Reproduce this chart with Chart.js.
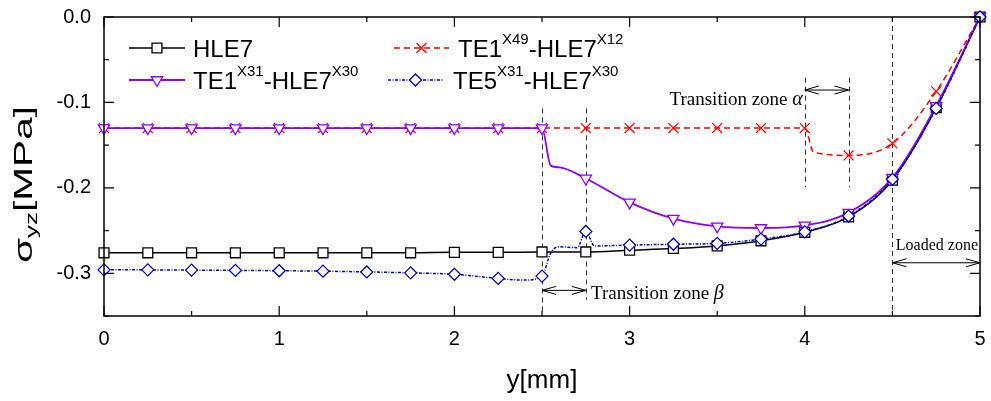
<!DOCTYPE html>
<html><head><meta charset="utf-8">
<script src="https://cdn.jsdelivr.net/npm/chart.js@4/dist/chart.umd.min.js"></script>
<style>html,body{margin:0;padding:0;background:#fff}#wrap{position:relative;width:991px;height:401px}</style>
</head><body><div id="wrap"><canvas id="c" width="991" height="401"></canvas></div>
<script>
// ---- data ----
const hle7X = [0,0.25,0.5,0.75,1,1.25,1.5,1.75,2,2.25,2.5,2.75,3,3.25,3.5,3.75,4,4.25,4.5,4.75,5];
const hle7Y = [-0.276,-0.276,-0.276,-0.276,-0.276,-0.276,-0.276,-0.276,-0.2755,-0.2755,-0.275,-0.275,-0.273,-0.271,-0.268,-0.262,-0.252,-0.234,-0.191,-0.106,0];

const te1aX = [0,0.25,0.5,0.75,1,1.25,1.5,1.75,2,2.25,2.5,2.75,3,3.25,3.5,3.75,4,4.05,4.25,4.5,4.75,5];
const te1aY = [-0.13,-0.13,-0.13,-0.13,-0.13,-0.13,-0.13,-0.13,-0.13,-0.13,-0.13,-0.13,-0.13,-0.13,-0.13,-0.13,-0.13,-0.158,-0.162,-0.148,-0.087,0];

const te1bX = [0,0.25,0.5,0.75,1,1.25,1.5,1.75,2,2.25,2.5,2.55,2.6,2.75,3,3.25,3.5,3.75,4,4.25,4.5,4.75,5];
const te1bY = [-0.13,-0.13,-0.13,-0.13,-0.13,-0.13,-0.13,-0.13,-0.13,-0.13,-0.13,-0.174,-0.176,-0.189,-0.217,-0.236,-0.245,-0.247,-0.244,-0.229,-0.188,-0.104,0];

const te5X = [0,0.25,0.5,0.75,1,1.25,1.5,1.75,2,2.25,2.4,2.5,2.55,2.6,2.7,2.75,2.8,3,3.25,3.5,3.75,4,4.25,4.5,4.75,5];
const te5Y = [-0.296,-0.296,-0.2963,-0.2966,-0.297,-0.2975,-0.2984,-0.2995,-0.3012,-0.306,-0.308,-0.3033,-0.276,-0.269,-0.270,-0.251,-0.268,-0.267,-0.266,-0.265,-0.260,-0.2515,-0.233,-0.190,-0.107,0];

const xTicks = [0,1,2,3,4,5];
const yTicks = [-0.3,-0.2,-0.1,0.0];
const zoneLines = [ // x value, y from, y to
  [2.5,-0.107,-0.35],[2.75,-0.107,-0.331],[4.0,-0.071,-0.199],[4.25,-0.071,-0.199],[4.5,0,-0.35]
];

const pts = (xs, ys) => xs.map((x,i)=>({x:x, y:ys[i]}));
const onGrid = v => Math.abs(v*4 - Math.round(v*4)) < 1e-6;

const series = [
  {label:'HLE7', parts:[['HLE7',0]], data:pts(hle7X,hle7Y), color:'#000000', dash:[], width:1.5, style:'rect', radius:7, rot:0, order:2, fill:'#ffffff'},
  {label:'TE1X49-HLE7X12', parts:[['TE1',0],['X49',1],['-HLE7',0],['X12',1]], data:pts(te1aX,te1aY), color:'#ff0000', dash:[6,4], width:1.5, style:'crossRot', radius:7, rot:0, order:3, fill:'#ffffff'},
  {label:'TE1X31-HLE7X30', parts:[['TE1',0],['X31',1],['-HLE7',0],['X30',1]], data:pts(te1bX,te1bY), color:'#8a00ff', dash:[], width:1.8, style:'triangle', radius:6.5, rot:180, order:1, fill:'#ffffff'},
  {label:'TE5X31-HLE7X30', parts:[['TE5',0],['X31',1],['-HLE7',0],['X30',1]], data:pts(te5X,te5Y), color:'#0000b4', dash:[3,1.5,1,1.5], width:1.5, style:'rectRot', radius:6, rot:0, order:0, fill:'#ffffff'}
];

const legendPos = [ // [lineX1, lineX2, textX, centerY]
  [129,185,193,48],[394,449,458,48],[129,185,193,80],[388,443,453,80]
];

function drawParts(ctx, parts, x, baseY, size) {
  let cx = x;
  parts.forEach(([t,sup])=>{
    if (sup) { ctx.font = Math.round(size*0.62)+'px "Liberation Sans", Arial, sans-serif'; ctx.fillText(t, cx, baseY - size*0.54); }
    else { ctx.font = size+'px "Liberation Sans", Arial, sans-serif'; ctx.fillText(t, cx, baseY); }
    cx += ctx.measureText(t).width;
  });
}

function arrow(ctx, x1, x2, y) {
  const L = 14, H = 4;
  ctx.beginPath();
  ctx.moveTo(x1, y); ctx.lineTo(x2, y);
  ctx.moveTo(x1+L, y-H); ctx.lineTo(x1, y); ctx.lineTo(x1+L, y+H);
  ctx.moveTo(x2-L, y-H); ctx.lineTo(x2, y); ctx.lineTo(x2-L, y+H);
  ctx.stroke();
}

const deco = {
  id:'deco',
  beforeDatasetsDraw(chart) {
    const {ctx, scales:{x, y}} = chart;
    ctx.save();
    ctx.strokeStyle = '#333'; ctx.lineWidth = 1; ctx.setLineDash([5,4]);
    zoneLines.forEach(([xv,y1,y2])=>{
      const px = Math.round(x.getPixelForValue(xv))+0.5;
      ctx.beginPath(); ctx.moveTo(px, y.getPixelForValue(y1)); ctx.lineTo(px, y.getPixelForValue(y2)); ctx.stroke();
    });
    ctx.restore();
  },
  afterDraw(chart) {
    const {ctx, chartArea:a, scales:{x, y}} = chart;
    ctx.save();
    // frame
    ctx.strokeStyle = '#000'; ctx.lineWidth = 1.5; ctx.setLineDash([]);
    ctx.strokeRect(a.left, a.top, a.right-a.left, a.bottom-a.top);
    // inward ticks
    ctx.lineWidth = 1.2;
    ctx.beginPath();
    for (let k=0; k<=10; k++) {
      const v = 0.5*k; const px = x.getPixelForValue(v);
      const len = k%2===0 ? 10 : 5;
      ctx.moveTo(px, a.bottom); ctx.lineTo(px, a.bottom-len);
      ctx.moveTo(px, a.top); ctx.lineTo(px, a.top+len);
    }
    for (let k=0; k<=7; k++) {
      const v = -0.05*k; const py = y.getPixelForValue(v);
      const len = k%2===0 ? 10 : 5;
      ctx.moveTo(a.left, py); ctx.lineTo(a.left+len, py);
      ctx.moveTo(a.right, py); ctx.lineTo(a.right-len, py);
    }
    ctx.stroke();

    // annotations
    ctx.strokeStyle = '#000'; ctx.lineWidth = 1;
    arrow(ctx, x.getPixelForValue(4.0), x.getPixelForValue(4.25), y.getPixelForValue(-0.0855));
    arrow(ctx, x.getPixelForValue(2.5), x.getPixelForValue(2.75), y.getPixelForValue(-0.320));
    arrow(ctx, x.getPixelForValue(4.5), x.getPixelForValue(5.0), y.getPixelForValue(-0.2877));
    ctx.fillStyle = '#000'; ctx.textBaseline = 'alphabetic';
    const fR = '19px "Liberation Serif", "Times New Roman", serif';
    const fI = 'italic 20px "Liberation Serif", "Times New Roman", serif';
    const tA = 'Transition zone ';
    ctx.font = fI; const wAlpha = ctx.measureText('α').width;
    ctx.font = fR; const wA = ctx.measureText(tA).width;
    // Transition zone alpha (right-aligned before x=4.0)
    const endA = x.getPixelForValue(4.0) - 2;
    const by1 = y.getPixelForValue(-0.0955) + 6;
    ctx.fillText(tA, endA - wAlpha - wA, by1);
    ctx.font = fI; ctx.fillText('α', endA - wAlpha, by1);
    // Transition zone beta
    const sB = x.getPixelForValue(2.78);
    const by2 = y.getPixelForValue(-0.322) + 7;
    ctx.font = fR; ctx.fillText(tA, sB, by2);
    ctx.font = fI; ctx.fillText('β', sB + wA, by2);
    // Loaded zone
    ctx.font = '16px "Liberation Serif", "Times New Roman", serif';
    ctx.textAlign = 'right';
    ctx.fillText('Loaded zone', a.right - 2, y.getPixelForValue(-0.267) + 5);
    ctx.textAlign = 'left';

    // legend
    series.forEach((s,i)=>{
      const [x1,x2,tx,cy] = legendPos[i];
      ctx.save();
      ctx.strokeStyle = s.color; ctx.lineWidth = s.width; ctx.setLineDash(s.dash);
      ctx.beginPath(); ctx.moveTo(x1, cy); ctx.lineTo(x2, cy); ctx.stroke();
      ctx.setLineDash([]);
      ctx.fillStyle = s.fill; ctx.strokeStyle = s.color; ctx.lineWidth = 1.3;
      Chart.helpers.drawPoint(ctx, {pointStyle:s.style, radius:s.radius, rotation:s.rot, borderWidth:1.3}, (x1+x2)/2, cy);
      ctx.restore();
      ctx.fillStyle = '#000';
      drawParts(ctx, s.parts, tx, cy + 8.6, 24);
    });

    // y title: σ_yz[MPa]
    ctx.save();
    ctx.translate(25, 184.5);
    ctx.rotate(-Math.PI/2);
    ctx.fillStyle = '#000';
    ctx.textBaseline = 'middle';
    const f1 = '25px "Liberation Sans", Arial, sans-serif', f2 = '16px "Liberation Sans", Arial, sans-serif';
    ctx.font = f1; const wS = ctx.measureText('σ').width; const wM = ctx.measureText('[MPa]').width;
    ctx.font = f2; const wY = ctx.measureText('yz').width;
    const total = wS + wY + wM; const target = 157; const sc = target/total;
    ctx.scale(sc, 1);
    let cx = -total/2;
    ctx.font = f1; ctx.fillText('σ', cx, 0); cx += wS;
    ctx.font = f2; ctx.fillText('yz', cx, 8); cx += wY;
    ctx.font = f1; ctx.fillText('[MPa]', cx, 0);
    ctx.restore();

    // x title
    ctx.font = '26px "Liberation Sans", Arial, sans-serif';
    ctx.textAlign = 'center'; ctx.textBaseline = 'middle';
    ctx.fillText('y[mm]', (a.left+a.right)/2, 381);
    ctx.restore();
  }
};

const datasets = series.map(s=>({
  label:s.label, data:s.data, borderColor:s.color, backgroundColor:s.fill, borderWidth:s.width,
  borderDash:s.dash, pointStyle:s.style, pointRotation:s.rot, pointBorderColor:s.color,
  pointBackgroundColor:s.fill, pointBorderWidth:1.3,
  pointRadius: ctx => (ctx.raw && onGrid(ctx.raw.x)) ? s.radius : 0,
  cubicInterpolationMode:'monotone', order:s.order, fill:false, clip:false
}));

new Chart(document.getElementById('c'), {
  type:'line',
  data:{datasets},
  options:{
    responsive:false, animation:false, devicePixelRatio:1,
    layout:{padding:{top:17,right:11,left:0,bottom:0}},
    plugins:{legend:{display:false}, tooltip:{enabled:false}},
    scales:{
      x:{type:'linear', min:0, max:5,
        afterBuildTicks(s){ s.ticks = xTicks.map(v=>({value:v})); },
        ticks:{color:'#000', font:{family:'"Liberation Sans", Arial, sans-serif', size:20}, padding:11, maxRotation:0, autoSkip:false, callback:v=>String(v)},
        grid:{display:false, drawTicks:false}, border:{display:false},
        afterFit(s){ s.height = 85; s.paddingLeft = 0; s.paddingRight = 0; }
      },
      y:{type:'linear', min:-0.35, max:0,
        afterBuildTicks(s){ s.ticks = yTicks.map(v=>({value:v})); },
        ticks:{color:'#000', font:{family:'"Liberation Sans", Arial, sans-serif', size:20}, padding:13, autoSkip:false, callback:v=>v.toFixed(1)},
        grid:{display:false, drawTicks:false}, border:{display:false},
        afterFit(s){ s.width = 104; s.paddingTop = 0; s.paddingBottom = 0; }
      }
    }
  },
  plugins:[deco]
});
</script></body></html>
